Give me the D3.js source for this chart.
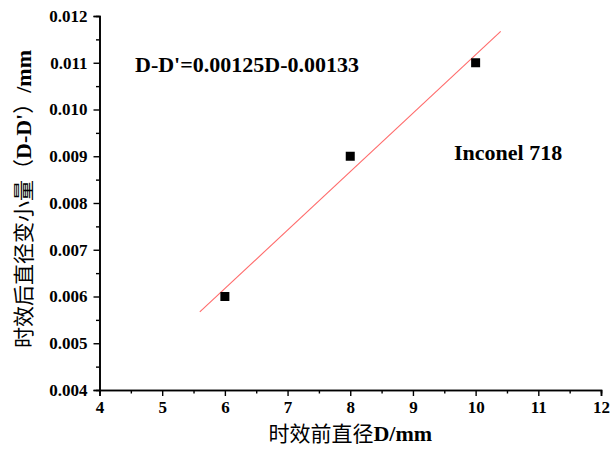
<!DOCTYPE html>
<html>
<head>
<meta charset="utf-8">
<script src="https://cdn.jsdelivr.net/npm/d3@7"></script>
<style>
  html, body { margin: 0; padding: 0; background: #fff; }
  svg { display: block; }
</style>
</head>
<body>
<svg id="chart" width="613" height="451"></svg>
<script>
// ---- data ----
const diamBefore = [6, 8, 10];
const diamChange = [0.006, 0.009, 0.011];
const fitX = [5.6, 10.4];
const fitY = [0.00567, 0.01167];
const xTicks = [4, 5, 6, 7, 8, 9, 10, 11, 12];
const xMinor = [4.5, 5.5, 6.5, 7.5, 8.5, 9.5, 10.5, 11.5];
const yTicks = [0.004, 0.005, 0.006, 0.007, 0.008, 0.009, 0.010, 0.011, 0.012];
const yMinor = [0.0045, 0.0055, 0.0065, 0.0075, 0.0085, 0.0095, 0.0105, 0.0115];
const equationText = "D-D'=0.00125D-0.00133";
const materialText = "Inconel 718";

const svg = d3.select("#chart");
const serif = "'Liberation Serif', 'Times New Roman', serif";
const cjk = "'Noto Sans CJK SC', sans-serif";

const x = d3.scaleLinear().domain([4, 12]).range([99.5, 601]);
const y = d3.scaleLinear().domain([0.004, 0.012]).range([390, 16]);

// axes
const xAxis = d3.axisBottom(x).tickValues(xTicks).tickFormat(d3.format("d")).tickSizeOuter(0).tickSize(6).tickPadding(5);
const xAxisMinor = d3.axisBottom(x).tickValues(xMinor).tickFormat("").tickSizeOuter(0).tickSize(3.5);
const yAxis = d3.axisLeft(y).tickValues(yTicks).tickFormat(d3.format(".3f")).tickSizeOuter(0).tickSize(6).tickPadding(6);
const yAxisMinor = d3.axisLeft(y).tickValues(yMinor).tickFormat("").tickSizeOuter(0).tickSize(3.5);

function styleAxis(g) {
  g.selectAll("path.domain").attr("stroke", "#000").attr("stroke-width", 1.6);
  g.selectAll(".tick line").attr("stroke", "#000").attr("stroke-width", 1.4);
  g.selectAll(".tick text").attr("fill", "#000")
    .style("font-family", serif).style("font-weight", "bold").style("font-size", "17px");
}

svg.append("g").attr("transform", "translate(0,390)").call(xAxisMinor).call(styleAxis);
svg.append("g").attr("transform", "translate(0,390)").call(xAxis).call(styleAxis);
svg.append("g").attr("transform", "translate(99.5,0)").call(yAxisMinor).call(styleAxis);
svg.append("g").attr("transform", "translate(99.5,0)").call(yAxis).call(styleAxis);

// fit line
svg.append("path")
  .datum(fitX.map((d, i) => [d, fitY[i]]))
  .attr("d", d3.line().x(d => x(d[0])).y(d => y(d[1])))
  .attr("fill", "none")
  .attr("stroke", "#ff6b6b")
  .attr("stroke-width", 1.1);

// points
const ms = 9;
svg.append("g").selectAll("rect")
  .data(diamBefore.map((d, i) => [d, diamChange[i]]))
  .join("rect")
  .attr("x", d => x(d[0]) - ms / 2)
  .attr("y", d => y(d[1]) - ms / 2)
  .attr("width", ms)
  .attr("height", ms)
  .attr("fill", "#000");

// annotations
svg.append("text")
  .attr("x", 135).attr("y", 72)
  .style("font-family", serif).style("font-weight", "bold").style("font-size", "22px")
  .text(equationText);

svg.append("text")
  .attr("x", 454).attr("y", 160)
  .style("font-family", serif).style("font-weight", "bold").style("font-size", "22px")
  .text(materialText);

// x title
const xt = svg.append("text")
  .attr("x", (x(4) + x(12)) / 2).attr("y", 441)
  .attr("text-anchor", "middle");
xt.append("tspan").style("font-family", cjk).style("font-size", "21px").text("时效前直径");
xt.append("tspan").style("font-family", serif).style("font-weight", "bold").style("font-size", "22px").text("D/mm");

// y title
const yt = svg.append("text")
  .attr("transform", `translate(31,${(y(0.004) + y(0.012)) / 2 - 4}) rotate(-90)`)
  .attr("text-anchor", "middle");
yt.append("tspan").style("font-family", cjk).style("font-size", "21px").text("时效后直径变小量（");
yt.append("tspan").style("font-family", serif).style("font-weight", "bold").style("font-size", "22px").text("D-D'");
yt.append("tspan").style("font-family", cjk).style("font-size", "21px").text("）");
yt.append("tspan").style("font-family", serif).style("font-weight", "bold").style("font-size", "22px").text("/mm");
</script>
</body>
</html>
